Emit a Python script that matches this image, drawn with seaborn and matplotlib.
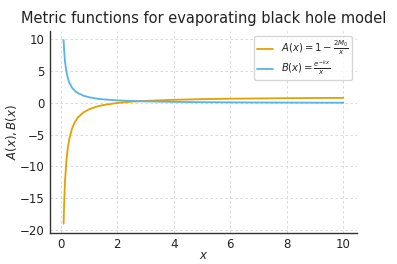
import matplotlib
matplotlib.use("Agg")
import matplotlib.pyplot as plt
import seaborn as sns
import pandas as pd

x_vals = [0.1, 0.12, 0.15, 0.2, 0.25, 0.3, 0.4, 0.5, 0.6, 0.8, 1.0, 1.25, 1.5,
          2.0, 2.5, 3.0, 4.0, 5.0, 6.0, 7.0, 8.0, 9.0, 10.0]
a_vals = [-19.0, -15.7, -12.3, -9.0, -7.0, -5.7, -4.0, -3.0, -2.3, -1.5, -1.0, -0.6,
          -0.33, 0.0, 0.2, 0.33, 0.5, 0.6, 0.67, 0.71, 0.75, 0.78, 0.8]
b_vals = [9.9, 8.2, 6.5, 4.9, 3.9, 3.2, 2.4, 1.9, 1.57, 1.15, 0.9, 0.7, 0.57,
          0.41, 0.31, 0.25, 0.17, 0.12, 0.09, 0.07, 0.056, 0.045, 0.037]
labels = [r"$A(x) = 1 - \frac{2M_0}{x}$", r"$B(x) = \frac{e^{-kx}}{x}$"]
colors = ["#E69F00", "#56B4E9"]

df = pd.DataFrame({"x": x_vals * 2,
                   "y": a_vals + b_vals,
                   "series": [labels[0]] * len(x_vals) + [labels[1]] * len(x_vals)})

sns.set_style("white")
plt.rcParams['font.family'] = ['DejaVu Sans']
fig, ax = plt.subplots(figsize=(3.97, 2.64), dpi=100)
sns.lineplot(data=df, x="x", y="y", hue="series", palette=colors, ax=ax, linewidth=1.3)
ax.grid(True, linestyle=(0, (3, 3)), color="#d5d5d5", linewidth=0.6)
for s in ["top", "right"]:
    ax.spines[s].set_visible(False)
for s in ["left", "bottom"]:
    ax.spines[s].set_color("#333333")
    ax.spines[s].set_linewidth(1.0)
ax.tick_params(length=2, width=0.8, labelsize=8.5, colors="#222222", pad=1.5)
ax.set_xticks([0, 2, 4, 6, 8, 10])
ax.set_yticks([-20, -15, -10, -5, 0, 5, 10])
ax.set_xlabel(r"$x$", fontsize=8.5, labelpad=-1)
ax.set_ylabel(r"$A(x), B(x)$", fontsize=8.5, labelpad=1)
ax.set_title("Metric functions for evaporating black hole model", fontsize=10.5,
             color="#222222", pad=6)
leg = ax.legend(title=None, fontsize=7.2, loc="upper right", frameon=True,
                handlelength=1.6, labelspacing=0.2, borderpad=0.3,
                bbox_to_anchor=(1.0, 1.0))
fig.subplots_adjust(left=0.125, right=0.9, top=0.883, bottom=0.118)
fig.savefig("out.png", dpi=100)
